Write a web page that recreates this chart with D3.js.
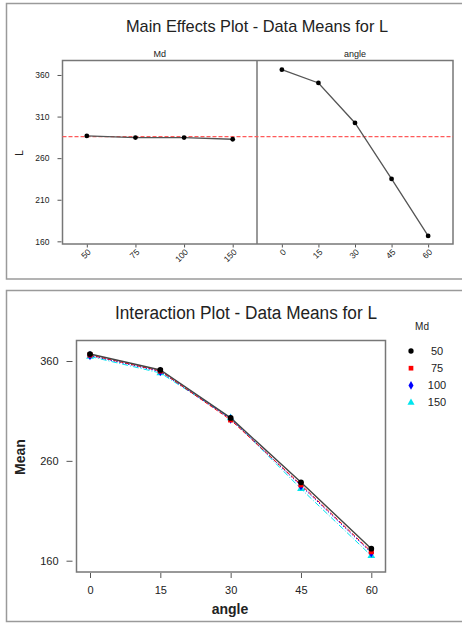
<!DOCTYPE html>
<meta charset="utf-8">
<style>
body { margin: 0; background: #fff; }
text { font-family: "Liberation Sans", Arial, sans-serif; fill: #222; }
.frame { fill: none; stroke: #9a9a9a; stroke-width: 1.5px; }
.box { fill: none; stroke: #777; stroke-width: 1.5px; }
.tick line { stroke: #555; }
</style>
<svg width="462" height="623"></svg>
<script src="https://cdn.jsdelivr.net/npm/d3@7"></script>
<script>
// main effects
var mdLevels = [50, 75, 100, 150];
var mdMeans = [286.7, 284.7, 284.7, 282.7];
var angleLevels = [0, 15, 30, 45, 60];
var angleMeans = [366.4, 350.4, 302.3, 235, 166.5];
var grandMean = 285.9;
var mainTicks = [160, 210, 260, 310, 360];

// interaction - one series per Md level, values at each angle
var int50 = [367, 351, 303, 238.5, 172];
var int75 = [366, 350, 301, 236, 169];
var int100 = [365.5, 349.5, 302, 235, 168];
var int150 = [364.5, 348, 303, 232, 165];
var intTicks = [160, 260, 360];

var svg = d3.select("svg");

// ---------- top: main effects ----------
svg.append("rect").attr("class", "frame")
  .attr("x", 6.5).attr("y", 3.5).attr("width", 470).attr("height", 275.5);

svg.append("text")
  .attr("x", 257).attr("y", 32)
  .attr("text-anchor", "middle")
  .attr("font-size", 17)
  .attr("textLength", 262).attr("lengthAdjust", "spacingAndGlyphs")
  .text("Main Effects Plot - Data Means for L");

// plot area edges (top panel)
var mTop = 60.5, mBottom = 244, mLeft = 62.5, mMid = 257, mRight = 453;

var yMain = d3.scaleLinear().domain([156.8, 377.4]).range([mBottom, mTop]);
var xMd = d3.scalePoint().domain(mdLevels).range([mLeft, mMid]).padding(0.5);
var xAng = d3.scalePoint().domain(angleLevels).range([mMid, mRight]).padding(0.68);

svg.append("rect").attr("class", "box")
  .attr("x", mLeft).attr("y", mTop).attr("width", mRight - mLeft).attr("height", mBottom - mTop);
svg.append("line")
  .attr("x1", mMid).attr("x2", mMid).attr("y1", mTop).attr("y2", mBottom)
  .attr("stroke", "#777").attr("stroke-width", 1.5);

svg.append("text").attr("x", (mLeft + mMid) / 2).attr("y", 57)
  .attr("text-anchor", "middle").attr("font-size", 9).text("Md");
svg.append("text").attr("x", (mMid + mRight) / 2).attr("y", 57)
  .attr("text-anchor", "middle").attr("font-size", 9).text("angle");

var yAxisMain = svg.append("g")
  .attr("transform", "translate(" + (mLeft - 1) + ",0)")
  .call(d3.axisLeft(yMain).tickValues(mainTicks).tickSize(4).tickPadding(8));
yAxisMain.select(".domain").remove();
yAxisMain.selectAll("text").attr("font-size", 8.5);

svg.append("text")
  .attr("transform", "translate(23,153) rotate(-90)")
  .attr("text-anchor", "middle").attr("font-size", 10).text("L");

function rotatedAxis(scale) {
  var g = svg.append("g")
    .attr("transform", "translate(0," + (mBottom + 0.5) + ")")
    .call(d3.axisBottom(scale).tickSize(3).tickPadding(2));
  g.select(".domain").remove();
  g.selectAll("text")
    .attr("font-size", 8.5)
    .attr("text-anchor", "end")
    .attr("y", 0)
    .attr("dy", "0.35em")
    .attr("transform", "translate(2,6) rotate(-45)");
}
rotatedAxis(xMd);
rotatedAxis(xAng);

// grand mean reference line
svg.append("line")
  .attr("x1", mLeft).attr("x2", mRight)
  .attr("y1", yMain(grandMean)).attr("y2", yMain(grandMean))
  .attr("stroke", "#ff5a5a").attr("stroke-width", 1.3)
  .attr("stroke-dasharray", "4,2");

function effectPanel(xs, levels, means) {
  var pts = levels.map(function(l, i) { return [xs(l), yMain(means[i])]; });
  svg.append("path")
    .attr("d", d3.line()(pts))
    .attr("fill", "none").attr("stroke", "#555").attr("stroke-width", 1.3);
  svg.append("g").selectAll("circle").data(pts).join("circle")
    .attr("cx", function(d) { return d[0]; })
    .attr("cy", function(d) { return d[1]; })
    .attr("r", 2.4).attr("fill", "#000");
}
effectPanel(xMd, mdLevels, mdMeans);
effectPanel(xAng, angleLevels, angleMeans);

// ---------- bottom: interaction ----------
svg.append("rect").attr("class", "frame")
  .attr("x", 6.5).attr("y", 290.5).attr("width", 470).attr("height", 331);

svg.append("text")
  .attr("x", 246).attr("y", 319)
  .attr("text-anchor", "middle")
  .attr("font-size", 18)
  .attr("textLength", 262).attr("lengthAdjust", "spacingAndGlyphs")
  .text("Interaction Plot - Data Means for L");

var pTop = 340.5, pBottom = 572, pLeft = 76.5, pRight = 385.5;
var xI = d3.scaleLinear().domain([0, 60]).range([90, 371.3]);
var yI = d3.scaleLinear().domain([160, 360]).range([560.7, 361]);

svg.append("rect").attr("class", "box")
  .attr("x", pLeft).attr("y", pTop).attr("width", pRight - pLeft).attr("height", pBottom - pTop);

var yAxisI = svg.append("g")
  .attr("transform", "translate(" + (pLeft - 4) + ",0)")
  .call(d3.axisLeft(yI).tickValues(intTicks).tickSize(6).tickPadding(8));
yAxisI.select(".domain").remove();
yAxisI.selectAll("text").attr("font-size", 11);

var xAxisI = svg.append("g")
  .attr("transform", "translate(0," + (pBottom + 1) + ")")
  .call(d3.axisBottom(xI).tickValues(angleLevels).tickSize(5).tickPadding(8));
xAxisI.select(".domain").remove();
xAxisI.selectAll("text").attr("font-size", 11);

svg.append("text")
  .attr("x", 230).attr("y", 614)
  .attr("text-anchor", "middle").attr("font-size", 14).attr("font-weight", "bold")
  .text("angle");
svg.append("text")
  .attr("transform", "translate(25,457) rotate(-90)")
  .attr("text-anchor", "middle").attr("font-size", 14).attr("font-weight", "bold")
  .text("Mean");

var series = [
  { md: 150, vals: int150, color: "#00e5ee", dash: "6,2,1,2", sym: d3.symbolTriangle },
  { md: 100, vals: int100, color: "#0000ff", dash: "1.5,1.5", sym: d3.symbolDiamond },
  { md: 75, vals: int75, color: "#ff0000", dash: "4,2", sym: d3.symbolSquare },
  { md: 50, vals: int50, color: "#000000", dash: null, sym: d3.symbolCircle }
];

var lineI = d3.line()
  .x(function(d, i) { return xI(angleLevels[i]); })
  .y(function(d) { return yI(d); });

series.forEach(function(s) {
  svg.append("path")
    .datum(s.vals)
    .attr("d", lineI)
    .attr("fill", "none")
    .attr("stroke", s.md == 50 ? "#444" : s.color)
    .attr("stroke-width", s.md == 50 ? 1.4 : 1)
    .attr("stroke-dasharray", s.dash);
  svg.append("g").selectAll("path")
    .data(s.vals).join("path")
    .attr("transform", function(d, i) { return "translate(" + xI(angleLevels[i]) + "," + yI(d) + ")"; })
    .attr("d", d3.symbol().type(s.sym).size(26))
    .attr("fill", s.color);
});

// legend
svg.append("text").attr("x", 422).attr("y", 330)
  .attr("text-anchor", "middle").attr("font-size", 10).text("Md");
var legendOrder = series.slice().reverse();
var leg = svg.append("g").selectAll("g").data(legendOrder).join("g")
  .attr("transform", function(d, i) { return "translate(0," + (351 + i * 17.2) + ")"; });
leg.append("path")
  .attr("transform", "translate(411,0)")
  .attr("d", function(d) { return d3.symbol().type(d.sym).size(22)(); })
  .attr("fill", function(d) { return d.color; });
leg.append("text")
  .attr("x", 437).attr("dy", "0.35em")
  .attr("text-anchor", "middle").attr("font-size", 11)
  .text(function(d) { return d.md; });
</script>
